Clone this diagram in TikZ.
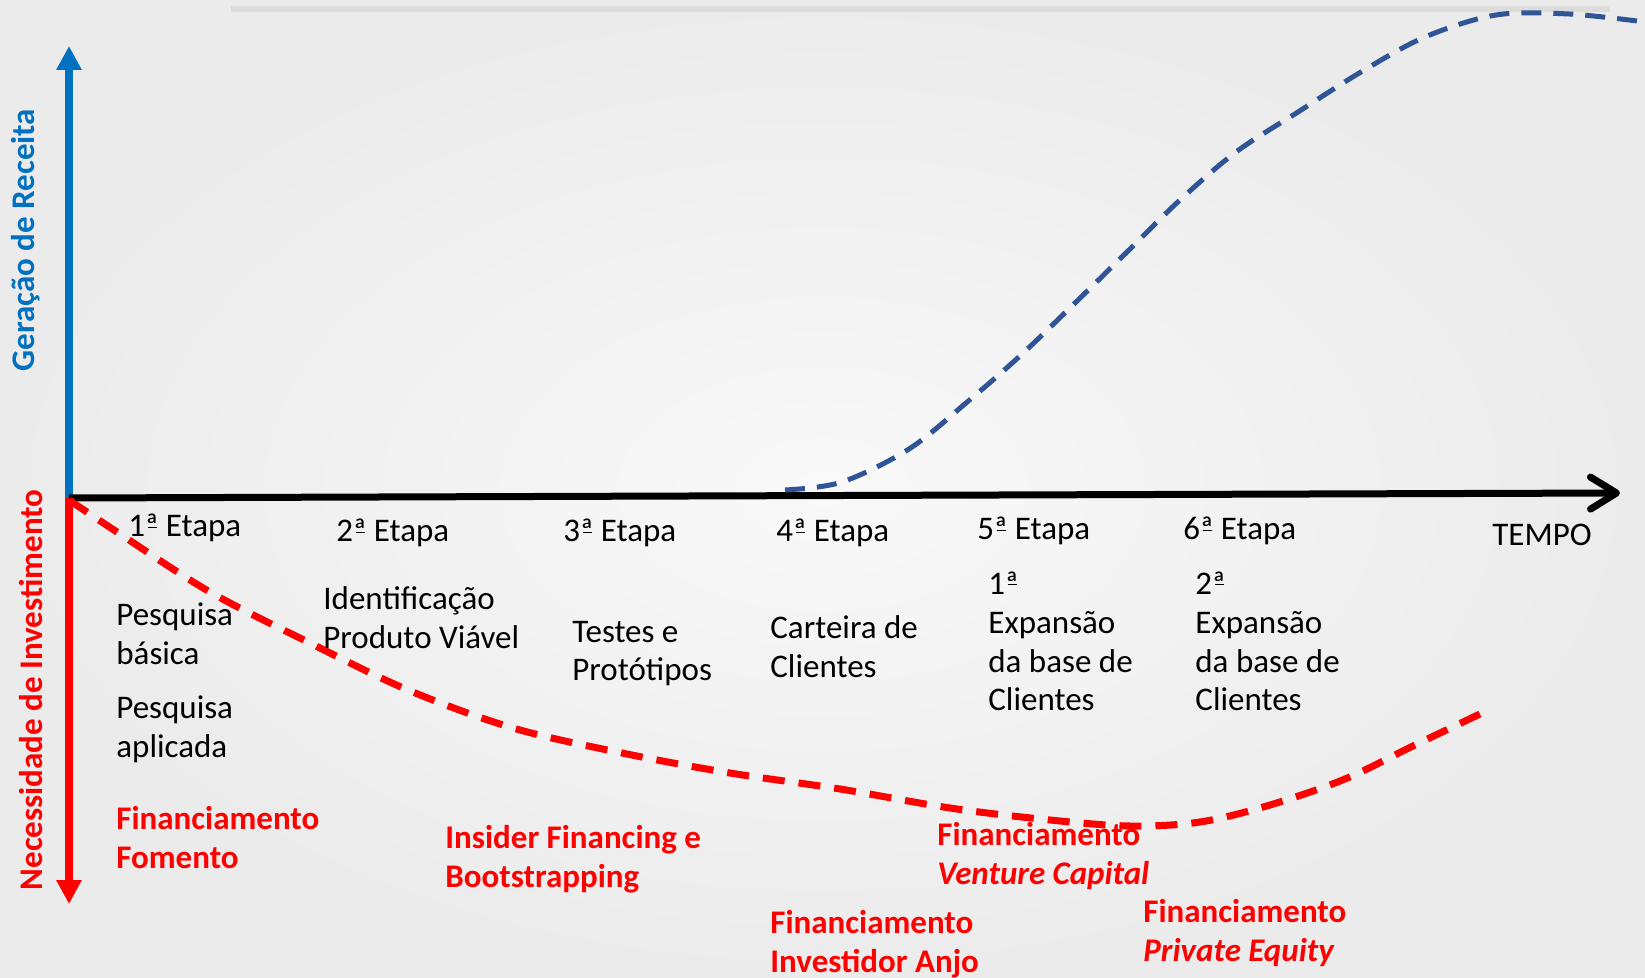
\documentclass[tikz,border=0pt]{standalone}
\usepackage{fontspec}
\setmainfont{Carlito}
\usetikzlibrary{arrows.meta}
\definecolor{axblue}{HTML}{0070C0}
\definecolor{curveblue}{HTML}{2F5597}
\definecolor{axred}{HTML}{FF0000}
\definecolor{bgin}{HTML}{F9F9F9}
\definecolor{bgout}{HTML}{EBEBEB}
\definecolor{topline}{HTML}{DCDCDC}
\newcommand\ordA{ª\llap{\rule[0.26em]{0.3em}{0.055em}\kern0.03em}}
\begin{document}
\begin{tikzpicture}[x=0.5pt,y=-0.5pt,
  lbl/.style={font=\fontsize{16.5pt}{19.5pt}\selectfont, text=black, align=left, inner sep=0pt, anchor=base west},
  fin/.style={lbl, text=axred, font=\fontsize{16.5pt}{19.5pt}\selectfont\bfseries},
  axlbl/.style={font=\fontsize{16.5pt}{19.5pt}\selectfont\bfseries, inner sep=0pt, rotate=90, anchor=center},
  vaxis/.style={line width=4pt, -{Triangle[length=12pt,width=12pt]}},
  haxis/.style={line width=3.5pt, black, -{Straight Barb[length=13pt,width=16pt,round]}},
  redcurve/.style={axred, line width=3.5pt, dash pattern=on 11pt off 7pt},
  bluecurve/.style={curveblue, line width=2.5pt, dash pattern=on 10pt off 6pt}
]
\useasboundingbox (0,0) rectangle (1645,978);
\shade[inner color=bgin, outer color=bgout] (0,0) rectangle (1645,978);
\draw[topline, line width=3pt] (231,9) -- (1610,9);

% axes
\coordinate (o) at (69,498);
\coordinate (ytop) at (69,46);
\coordinate (ybot) at (69,904);
\coordinate (xend) at (1620,493);
\draw[vaxis, axblue] (o) -- (ytop);
\draw[vaxis, axred] (o) -- (ybot);
\draw[haxis] (o) -- (xend);

% curves
\draw[bluecurve] plot[smooth, tension=0.55] coordinates {(785,490) (842,482) (909,449) (966,403) (1021,355) (1075,303) (1127,252) (1180,200) (1236,152) (1298,112) (1361,72) (1425,37) (1496,15) (1569,14) (1645,22)};
\draw[redcurve] plot[smooth, tension=0.55] coordinates {(69,500) (117,532) (210,592) (310,643) (408,690) (513,728) (622,753) (730,773) (840,789) (950,808) (1050,820) (1130,826) (1200,822) (1270,805) (1345,779) (1415,745) (1482,713)};

% axis labels
\node[axlbl, text=axblue] (rec) at (26,240) {Geração de Receita};
\node[axlbl, text=axred] (inv) at (31,690) {Necessidade de Investimento};

% stages
\node[lbl] (e1) at (128,537) {1\ordA{} Etapa};
\node[lbl] (e2) at (336,542) {2\ordA{} Etapa};
\node[lbl] (e3) at (563,542) {3\ordA{} Etapa};
\node[lbl] (e4) at (776,542) {4\ordA{} Etapa};
\node[lbl] (e5) at (977,540) {5\ordA{} Etapa};
\node[lbl] (e6) at (1183,540) {6\ordA{} Etapa};
\node[lbl] (tempo) at (1492,546) {TEMPO};

\node[lbl] (pb) at (116,664) {Pesquisa\\básica};
\node[lbl] (pa) at (116,757) {Pesquisa\\aplicada};
\node[lbl] (ipv) at (323,648) {Identificação\\Produto Viável};
\node[lbl] (tp) at (572,681) {Testes e\\Protótipos};
\node[lbl] (cc) at (770,677) {Carteira de\\Clientes};
\node[lbl] (x1) at (988,711) {1\ordA\\Expansão\\da base de\\Clientes};
\node[lbl] (x2) at (1195,711) {2\ordA\\Expansão\\da base de\\Clientes};

% financing
\node[fin] (f1) at (116,868) {Financiamento\\Fomento};
\node[fin] (f2) at (445,887) {Insider Financing e\\Bootstrapping};
\node[fin] (f3) at (937,884) {Financiamento\\\textit{Venture Capital}};
\node[fin] (f4) at (770,972) {Financiamento\\Investidor Anjo};
\node[fin] (f5) at (1143,961) {Financiamento\\\textit{Private Equity}};
\end{tikzpicture}
\end{document}
